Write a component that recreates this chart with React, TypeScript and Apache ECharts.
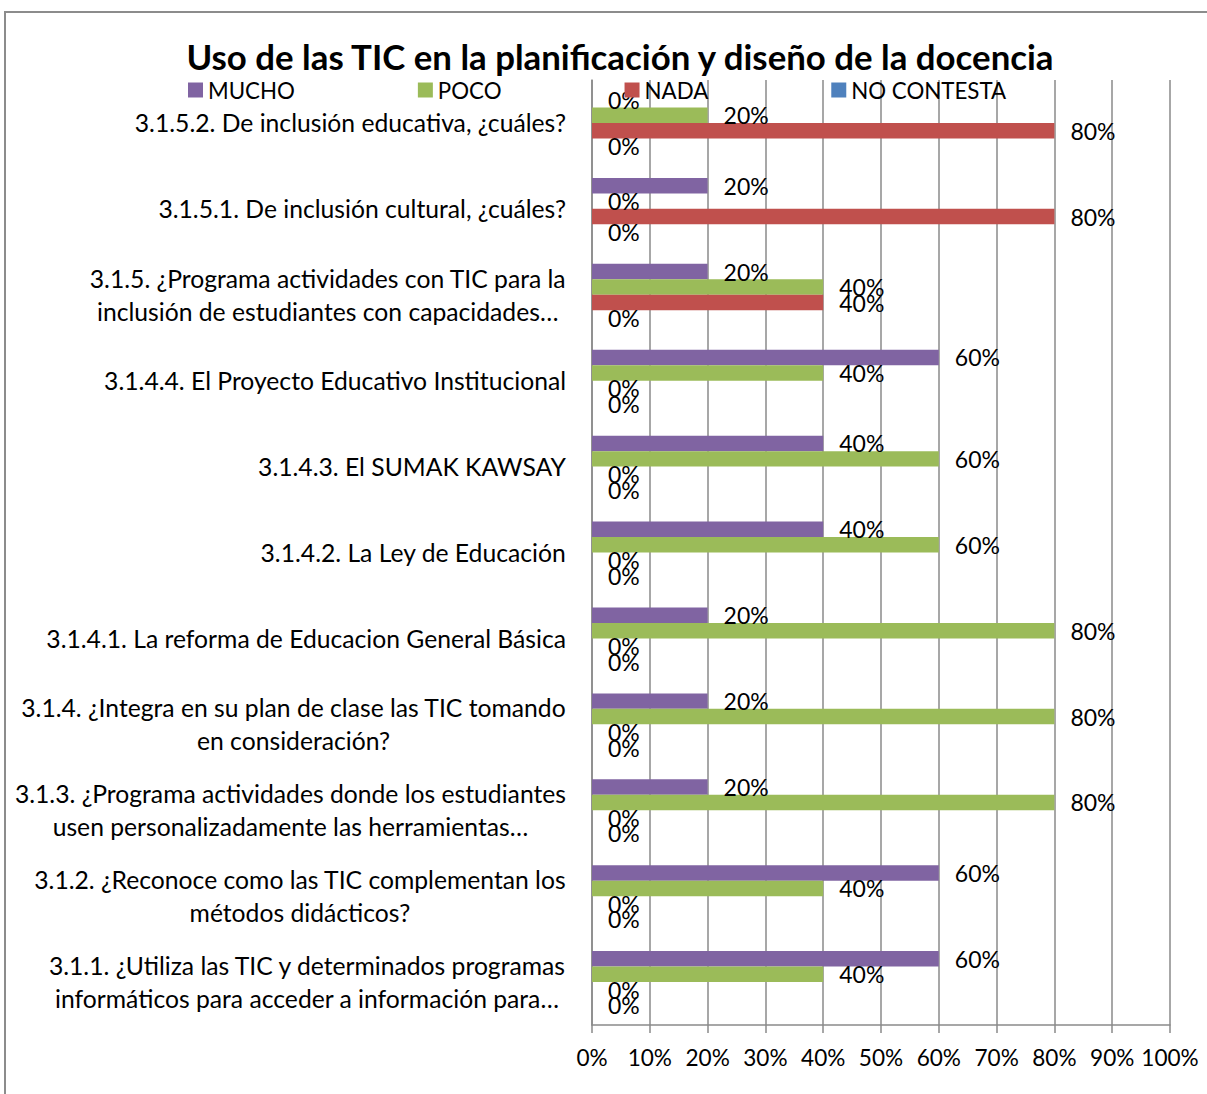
import React, { useEffect, useRef } from "react";
import * as echarts from "echarts";

const categories: string[] = [
  "3.1.1. ¿Utiliza las TIC y determinados programas\ninformáticos para acceder a información para…",
  "3.1.2. ¿Reconoce como las TIC complementan los\nmétodos didácticos?",
  "3.1.3. ¿Programa actividades donde los estudiantes\nusen personalizadamente las herramientas…",
  "3.1.4. ¿Integra en su plan de clase las TIC tomando\nen consideración?",
  "3.1.4.1. La reforma de Educacion General Básica",
  "3.1.4.2. La Ley de Educación",
  "3.1.4.3. El SUMAK KAWSAY",
  "3.1.4.4. El Proyecto Educativo Institucional",
  "3.1.5. ¿Programa actividades con TIC para la\ninclusión de estudiantes con capacidades…",
  "3.1.5.1. De inclusión cultural, ¿cuáles?",
  "3.1.5.2. De inclusión educativa, ¿cuáles?",
];

const mucho: number[] = [60, 60, 20, 20, 20, 40, 40, 60, 20, 20, 0];
const poco: number[] = [40, 40, 80, 80, 80, 60, 60, 40, 40, 0, 20];
const nada: number[] = [0, 0, 0, 0, 0, 0, 0, 0, 40, 80, 80];
const noContesta: number[] = [0, 0, 0, 0, 0, 0, 0, 0, 0, 0, 0];

const xTicks: number[] = [0, 10, 20, 30, 40, 50, 60, 70, 80, 90, 100];

const FONT = "Lato";

export default function App() {
  const ref = useRef<HTMLDivElement>(null);
  useEffect(() => {
    document.body.style.margin = "0";
    const chart = echarts.init(ref.current!, undefined, { renderer: "svg" });
    const labelCfg = {
      show: true,
      position: "right" as const,
      distance: 16,
      formatter: "{c}%",
      color: "#000",
      fontFamily: FONT,
      fontSize: 23,
    };
    const mk = (name: string, data: number[], color: string) => ({
      name,
      type: "bar",
      data,
      itemStyle: { color },
      label: labelCfg,
      barGap: "0%",
      barCategoryGap: "28%",
    });
    chart.setOption({
      animation: false,
      backgroundColor: "#fff",
      textStyle: { fontFamily: FONT },
      title: {
        text: "Uso de las TIC en la planificación y diseño de la docencia",
        left: 615,
        textAlign: "center",
        top: 34,
        textStyle: { fontFamily: FONT, fontSize: 34.8, fontWeight: "bold", color: "#000" },
      },
      legend: {
        data: ["MUCHO", "POCO", "NADA", "NO CONTESTA"],
        left: 183,
        top: 74,
        itemGap: 123,
        itemWidth: 15,
        itemHeight: 15,
        icon: "rect",
        textStyle: { fontFamily: FONT, fontSize: 22.3, color: "#000" },
      },
      grid: { left: 592, right: 37, top: 80, bottom: 69 },
      xAxis: {
        type: "value",
        min: xTicks[0],
        max: xTicks[xTicks.length - 1],
        interval: 10,
        axisLine: { show: true, lineStyle: { color: "#8a8a8a", width: 1.5 } },
        axisTick: { show: true, length: 8, lineStyle: { color: "#8a8a8a", width: 1.5 } },
        splitLine: { show: true, lineStyle: { color: "#8a8a8a", width: 1.5 } },
        axisLabel: {
          formatter: "{value}%",
          margin: 21,
          color: "#000",
          fontFamily: FONT,
          fontSize: 22.6,
        },
      },
      yAxis: {
        type: "category",
        data: categories,
        axisLine: { show: true, lineStyle: { color: "#8a8a8a", width: 1.5 } },
        axisTick: { show: false },
        axisLabel: {
          margin: 26,
          color: "#000",
          formatter: (v: string) =>
            v
              .split("\n")
              .map((l) => "{c|" + l + "}")
              .join("\n"),
          rich: {
            c: {
              align: "center",
              fontFamily: FONT,
              fontSize: 24.7,
              lineHeight: 33,
              color: "#000",
            },
          },
        },
      },
      series: [
        mk("MUCHO", mucho, "#8064A2"),
        mk("POCO", poco, "#9BBB59"),
        mk("NADA", nada, "#C0504D"),
        mk("NO CONTESTA", noContesta, "#4F81BD"),
      ],
      graphic: [
        {
          type: "rect",
          shape: { x: 5, y: 12, width: 1240, height: 1120 },
          style: { fill: "none", stroke: "#8c8c8c", lineWidth: 2 },
          silent: true,
          z: -1,
        },
      ],
    });
    return () => chart.dispose();
  }, []);
  return <div ref={ref} style={{ width: 1207, height: 1094 }} />;
}
